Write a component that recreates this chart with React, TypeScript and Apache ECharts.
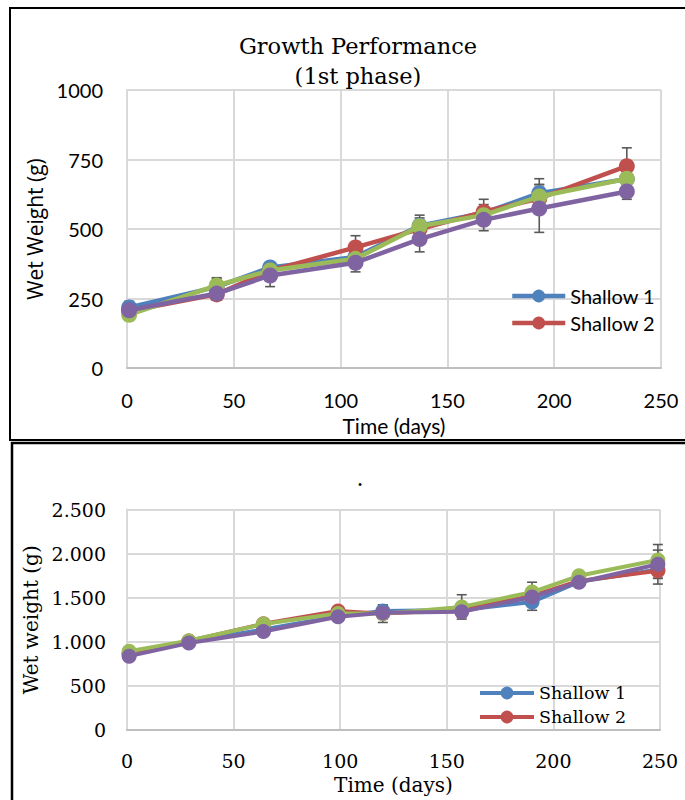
import React, { useEffect, useRef } from "react";
import * as echarts from "echarts";

// ---------- Top chart (1st phase) ----------
const topDays = [1, 42, 67, 107, 137, 167, 193, 234];
const topShallow1 = [218, 292, 362, 400, 512, 558, 629, 680];
const topShallow2 = [205, 265, 350, 434, 500, 562, 610, 726];
const topDeep1 = [192, 297, 351, 393, 510, 550, 617, 681];
const topDeep2 = [208, 268, 333, 379, 464, 533, 574, 635];
const topErrShallow1 = [22, 33, 15, 20, 38, 30, 52, 20];
const topErrShallow2 = [15, 20, 20, 42, 30, 45, 40, 66];
const topErrDeep1 = [20, 25, 20, 20, 30, 30, 43, 25];
const topErrDeep2 = [15, 20, 40, 33, 46, 39, 86, 28];
const topYTicks = [0, 250, 500, 750, 1000];
const xTicks = [0, 50, 100, 150, 200, 250];

// ---------- Bottom chart ----------
const botDays = [1, 29, 64, 99, 120, 157, 190, 212, 249];
const botShallow1 = [870, 1000, 1140, 1290, 1351, 1360, 1452, 1680, 1820];
const botShallow2 = [860, 1010, 1205, 1351, 1320, 1365, 1520, 1690, 1805];
const botDeep1 = [894, 1012, 1202, 1321, 1320, 1396, 1564, 1749, 1928];
const botDeep2 = [838, 986, 1117, 1284, 1329, 1340, 1508, 1676, 1880];
const botErrShallow1 = [30, 30, 40, 40, 60, 60, 94, 50, 100];
const botErrShallow2 = [30, 30, 40, 40, 100, 60, 60, 50, 150];
const botErrDeep1 = [30, 30, 40, 40, 60, 138, 112, 50, 175];
const botErrDeep2 = [30, 30, 40, 40, 60, 60, 60, 50, 160];
const botYTicks = [0, 500, 1000, 1500, 2000, 2500];

const seriesNames = ["Shallow 1", "Shallow 2", "Deep 1", "Deep 2"];
const colors = ["#4F81BD", "#C0504D", "#9BBB59", "#8064A2"];

const GRID = "#d9d9d9";
const SANS = "Lato, 'Open Sans', sans-serif";
const SERIF = "'DejaVu Serif', 'Liberation Serif', serif";

function buildErr(days: number[], vals: number[][], errs: number[][]) {
  const out: number[][] = [];
  vals.forEach((v, si) => {
    v.forEach((y, i) => {
      out.push([days[i], y - errs[si][i], y + errs[si][i]]);
    });
  });
  return out;
}

const errRender = (_params: any, api: any) => {
  const x = api.value(0);
  const lo = api.coord([x, api.value(1)]);
  const hi = api.coord([x, api.value(2)]);
  const w = 5;
  const style = { stroke: "#595959", lineWidth: 1.6 };
  return {
    type: "group",
    children: [
      { type: "line", shape: { x1: lo[0], y1: lo[1], x2: hi[0], y2: hi[1] }, style },
      { type: "line", shape: { x1: hi[0] - w, y1: hi[1], x2: hi[0] + w, y2: hi[1] }, style },
      { type: "line", shape: { x1: lo[0] - w, y1: lo[1], x2: lo[0] + w, y2: lo[1] }, style },
    ],
  };
};

function lineSeries(days: number[], vals: number[][], lw: number, sym: number) {
  return vals.map((v, i) => ({
    name: seriesNames[i],
    type: "line",
    data: days.map((d, j) => [d, v[j]]),
    symbol: "circle",
    symbolSize: sym,
    showSymbol: true,
    lineStyle: { width: lw, color: colors[i] },
    itemStyle: { color: colors[i] },
    z: 3 + i,
    emphasis: { disabled: true },
  }));
}

function topOption(): any {
  const vals = [topShallow1, topShallow2, topDeep1, topDeep2];
  const errs = [topErrShallow1, topErrShallow2, topErrDeep1, topErrDeep2];
  return {
    animation: false,
    backgroundColor: "#fff",
    title: {
      text: "Growth Performance\n(1st phase)",
      left: 353,
      top: 26,
      textAlign: "center",
      textStyle: { fontFamily: SERIF, fontSize: 22.5, fontWeight: "normal", lineHeight: 30, color: "#000" },
    },
    graphic: [
      {
        type: "rect",
        shape: { x: 10, y: 8, width: 720, height: 432 },
        style: { fill: "none", stroke: "#000", lineWidth: 2 },
        silent: true,
      },
    ],
    legend: {
      data: ["Shallow 1", "Shallow 2"],
      orient: "vertical",
      left: 510,
      top: 286,
      padding: 0,
      itemWidth: 53,
      itemHeight: 16,
      itemGap: 7,
      lineStyle: { width: 4.5 },
      textStyle: { fontFamily: SANS, fontSize: 20, color: "#000", lineHeight: 20 },
    },
    grid: { left: 127, right: 24, top: 90, bottom: 71 },
    xAxis: {
      type: "value",
      min: xTicks[0],
      max: xTicks[xTicks.length - 1],
      interval: 50,
      name: "Time (days)",
      nameLocation: "middle",
      nameGap: 34,
      nameTextStyle: { fontFamily: SANS, fontSize: 21, color: "#000" },
      axisLine: { show: true, lineStyle: { color: "#bfbfbf", width: 2 } },
      axisTick: { show: false },
      axisLabel: { margin: 22, fontFamily: SANS, fontSize: 20, color: "#000" },
      splitLine: { show: true, lineStyle: { color: GRID, width: 2 } },
    },
    yAxis: {
      type: "value",
      min: topYTicks[0],
      max: topYTicks[topYTicks.length - 1],
      interval: 250,
      name: "Wet Weight (g)",
      nameLocation: "middle",
      nameGap: 81,
      nameTextStyle: { fontFamily: "'Open Sans', sans-serif", fontSize: 21, color: "#000" },
      axisLine: { show: true, lineStyle: { color: GRID, width: 2 } },
      axisTick: { show: false },
      axisLabel: {
        margin: 24,
        fontFamily: SANS,
        fontSize: 20,
        color: "#000",
        formatter: (v: number) => String(v),
      },
      splitLine: { show: true, lineStyle: { color: GRID, width: 2 } },
    },
    series: [
      {
        name: "err",
        type: "custom",
        renderItem: errRender,
        data: buildErr(topDays, vals, errs),
        encode: { x: 0, y: [1, 2] },
        z: 2,
        silent: true,
      },
      ...lineSeries(topDays, vals, 4.5, 16),
    ],
  };
}

function botOption(): any {
  const vals = [botShallow1, botShallow2, botDeep1, botDeep2];
  const errs = [botErrShallow1, botErrShallow2, botErrDeep1, botErrDeep2];
  return {
    animation: false,
    backgroundColor: "#fff",
    title: {
      text: ".",
      left: 355,
      top: 21,
      textAlign: "center",
      textStyle: { fontFamily: SERIF, fontSize: 22, fontWeight: "normal", color: "#000" },
    },
    graphic: [
      {
        type: "rect",
        shape: { x: 12, y: 2, width: 720, height: 420 },
        style: { fill: "none", stroke: "#000", lineWidth: 2.5 },
        silent: true,
      },
    ],
    legend: {
      data: ["Shallow 1", "Shallow 2"],
      orient: "vertical",
      left: 478,
      top: 242,
      padding: 0,
      itemWidth: 54,
      itemHeight: 16,
      itemGap: 4,
      lineStyle: { width: 4 },
      textStyle: { fontFamily: SERIF, fontSize: 17.5, color: "#000", lineHeight: 20 },
    },
    grid: { left: 127, right: 25, top: 68.5, bottom: 359 - 292.3 },
    xAxis: {
      type: "value",
      min: xTicks[0],
      max: xTicks[xTicks.length - 1],
      interval: 50,
      name: "Time (days)",
      nameLocation: "middle",
      nameGap: 44,
      nameTextStyle: { fontFamily: SERIF, fontSize: 20, color: "#000" },
      axisLine: { show: true, lineStyle: { color: "#bfbfbf", width: 2 } },
      axisTick: { show: false },
      axisLabel: { margin: 21, fontFamily: SERIF, fontSize: 19, color: "#000" },
      splitLine: { show: true, lineStyle: { color: GRID, width: 2 } },
    },
    yAxis: {
      type: "value",
      min: botYTicks[0],
      max: botYTicks[botYTicks.length - 1],
      interval: 500,
      name: "Wet weight (g)",
      nameLocation: "middle",
      nameGap: 84,
      nameTextStyle: { fontFamily: SERIF, fontSize: 20, color: "#000" },
      axisLine: { show: true, lineStyle: { color: GRID, width: 2 } },
      axisTick: { show: false },
      axisLabel: {
        margin: 21,
        fontFamily: SERIF,
        fontSize: 19,
        color: "#000",
        formatter: (v: number) => String(v).replace(/\B(?=(\d{3})+(?!\d))/g, "."),
      },
      splitLine: { show: true, lineStyle: { color: GRID, width: 2 } },
    },
    series: [
      {
        name: "err",
        type: "custom",
        renderItem: errRender,
        data: buildErr(botDays, vals, errs),
        encode: { x: 0, y: [1, 2] },
        z: 2,
        silent: true,
      },
      ...lineSeries(botDays, vals, 4, 15),
    ],
  };
}

export default function App() {
  const topRef = useRef<HTMLDivElement>(null);
  const botRef = useRef<HTMLDivElement>(null);

  useEffect(() => {
    const c1 = echarts.init(topRef.current!, undefined, { renderer: "svg" });
    c1.setOption(topOption());
    const c2 = echarts.init(botRef.current!, undefined, { renderer: "svg" });
    c2.setOption(botOption());
    return () => {
      c1.dispose();
      c2.dispose();
    };
  }, []);

  return (
    <div
      style={{
        position: "fixed",
        left: 0,
        top: 0,
        width: 685,
        height: 800,
        overflow: "hidden",
        background: "#fff",
      }}
    >
      <div ref={topRef} style={{ position: "absolute", left: 0, top: 0, width: 685, height: 441 }} />
      <div ref={botRef} style={{ position: "absolute", left: 0, top: 441, width: 685, height: 359 }} />
    </div>
  );
}
